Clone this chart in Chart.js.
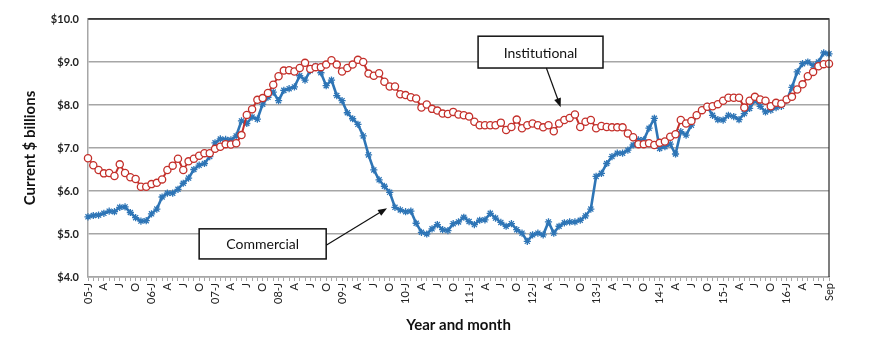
<!DOCTYPE html>
<html>
<head>
<meta charset="utf-8">
<script src="https://cdn.jsdelivr.net/npm/chart.js@4"></script>
<style>
  html, body { margin: 0; padding: 0; background: #fff; }
</style>
</head>
<body>
<canvas id="chart" width="870" height="349"></canvas>
<script>
// monthly values, Jan 2005 .. Sep 2016 ($ billions)
const commercial = [
  5.40, 5.43, 5.44, 5.48, 5.53, 5.52, 5.62, 5.63, 5.50, 5.38, 5.30, 5.31,
  5.47, 5.58, 5.86, 5.95, 5.95, 6.04, 6.18, 6.30, 6.50, 6.60, 6.64, 6.80,
  7.12, 7.21, 7.20, 7.19, 7.28, 7.63, 7.57, 7.72, 7.67, 8.02, 8.18, 8.30,
  8.10, 8.34, 8.38, 8.42, 8.68, 8.58, 8.80, 8.90, 8.75, 8.45, 8.58, 8.22,
  8.10, 7.82, 7.68, 7.55, 7.28, 6.84, 6.49, 6.26, 6.11, 5.97, 5.62, 5.56,
  5.52, 5.53, 5.25, 5.04, 5.00, 5.12, 5.22, 5.10, 5.08, 5.24, 5.28, 5.39,
  5.29, 5.22, 5.32, 5.33, 5.48, 5.37, 5.27, 5.18, 5.24, 5.10, 5.02, 4.83,
  4.98, 5.02, 4.98, 5.28, 5.02, 5.18, 5.26, 5.28, 5.28, 5.32, 5.42, 5.58,
  6.34, 6.41, 6.64, 6.80, 6.88, 6.88, 6.95, 7.07, 7.19, 7.19, 7.46, 7.69,
  6.99, 7.03, 7.09, 6.86, 7.38, 7.30, 7.53, 7.76, 7.88, 7.97, 7.76, 7.66,
  7.65, 7.76, 7.73, 7.66, 7.80, 7.92, 8.11, 7.97, 7.84, 7.88, 7.94, 7.97,
  8.11, 8.41, 8.77, 8.96, 9.00, 8.92, 9.00, 9.21, 9.19
];
const institutional = [
  6.76, 6.60, 6.49, 6.41, 6.42, 6.35, 6.62, 6.42, 6.32, 6.28, 6.10, 6.10,
  6.16, 6.19, 6.27, 6.49, 6.59, 6.75, 6.49, 6.69, 6.75, 6.82, 6.88, 6.88,
  6.98, 7.03, 7.09, 7.08, 7.11, 7.30, 7.77, 7.90, 8.12, 8.16, 8.28, 8.47,
  8.67, 8.80, 8.81, 8.78, 8.86, 8.98, 8.84, 8.88, 8.88, 8.94, 9.04, 8.94,
  8.78, 8.86, 8.94, 9.05, 9.00, 8.73, 8.68, 8.74, 8.54, 8.43, 8.43, 8.25,
  8.23, 8.18, 8.15, 7.94, 8.01, 7.91, 7.87, 7.80, 7.79, 7.84, 7.78, 7.76,
  7.73, 7.61, 7.53, 7.53, 7.53, 7.53, 7.59, 7.42, 7.49, 7.66, 7.46, 7.53,
  7.57, 7.53, 7.48, 7.53, 7.39, 7.57, 7.65, 7.70, 7.78, 7.49, 7.61, 7.65,
  7.46, 7.51, 7.49, 7.48, 7.48, 7.48, 7.34, 7.25, 7.09, 7.09, 7.11, 7.07,
  7.12, 7.15, 7.26, 7.32, 7.65, 7.57, 7.63, 7.76, 7.88, 7.96, 7.97, 8.02,
  8.10, 8.17, 8.17, 8.17, 7.94, 8.10, 8.19, 8.13, 8.10, 7.97, 8.05, 8.03,
  8.13, 8.19, 8.36, 8.48, 8.67, 8.77, 8.90, 8.95, 8.96
];

// quarter letters shown on the axis, last month gets its own label
const quarterLetters = ['J', 'A', 'J', 'O'];
const lastLabel = 'Sep';
const yTicks = [4, 5, 6, 7, 8, 9, 10];

const months = commercial.map((v, i) => {
  const yy = String(5 + Math.floor(i / 12)).padStart(2, '0');
  const m = i % 12;
  if (i === commercial.length - 1) return lastLabel;
  if (m === 0) return yy + '-J';
  if (m % 3 === 0) return quarterLetters[m / 3];
  return '';
});

// callout boxes, in data units (month index, $ value)
const notes = [
  { text: 'Institutional', box: [73.7, 9.6, 97.3, 8.86], from: [86.6, 8.86], to: [89.3, 7.95] },
  { text: 'Commercial', box: [21.0, 5.12, 45.0, 4.42], from: [45.0, 4.74], to: [56.5, 5.60] }
];

const FONT = 'Lato, "Open Sans", sans-serif';

function arrow(ctx, x1, y1, x2, y2) {
  const a = Math.atan2(y2 - y1, x2 - x1);
  ctx.beginPath();
  ctx.moveTo(x1, y1);
  ctx.lineTo(x2 - 6 * Math.cos(a), y2 - 6 * Math.sin(a));
  ctx.stroke();
  ctx.beginPath();
  ctx.moveTo(x2, y2);
  ctx.lineTo(x2 - 9 * Math.cos(a) + 3.5 * Math.sin(a), y2 - 9 * Math.sin(a) - 3.5 * Math.cos(a));
  ctx.lineTo(x2 - 9 * Math.cos(a) - 3.5 * Math.sin(a), y2 - 9 * Math.sin(a) + 3.5 * Math.cos(a));
  ctx.closePath();
  ctx.fill();
}

const calloutPlugin = {
  id: 'callouts',
  afterDraw(chart) {
    const ctx = chart.ctx;
    const xs = chart.scales.x, ys = chart.scales.y;
    const area = chart.chartArea;
    ctx.save();
    // dark frame on top and right
    ctx.strokeStyle = '#3a3a3a';
    ctx.lineWidth = 1.3;
    ctx.beginPath();
    ctx.moveTo(area.left, area.top);
    ctx.lineTo(area.right, area.top);
    ctx.lineTo(area.right, area.bottom);
    ctx.stroke();

    notes.forEach(n => {
      const x1 = xs.getPixelForValue(n.box[0]), y1 = ys.getPixelForValue(n.box[1]);
      const x2 = xs.getPixelForValue(n.box[2]), y2 = ys.getPixelForValue(n.box[3]);
      ctx.fillStyle = '#fff';
      ctx.fillRect(x1, y1, x2 - x1, y2 - y1);
      ctx.strokeStyle = '#111';
      ctx.lineWidth = 1.5;
      ctx.strokeRect(x1, y1, x2 - x1, y2 - y1);
      ctx.fillStyle = '#111';
      ctx.font = '14px ' + FONT;
      ctx.textAlign = 'center';
      ctx.textBaseline = 'middle';
      ctx.fillText(n.text, (x1 + x2) / 2, (y1 + y2) / 2 + 1);
      ctx.lineWidth = 1.2;
      arrow(ctx,
        xs.getPixelForValue(n.from[0]), ys.getPixelForValue(n.from[1]),
        xs.getPixelForValue(n.to[0]), ys.getPixelForValue(n.to[1]));
    });
    ctx.restore();
  }
};

const chart = new Chart(document.getElementById('chart').getContext('2d'), {
  type: 'line',
  data: {
    labels: months,
    datasets: [
      {
        label: 'Institutional',
        data: institutional,
        borderColor: '#c4302b',
        borderWidth: 2,
        pointStyle: 'circle',
        pointRadius: 3.6,
        pointBorderWidth: 1.3,
        pointBackgroundColor: '#fff',
        pointBorderColor: '#c4302b',
        tension: 0,
        order: 0
      },
      {
        label: 'Commercial',
        data: commercial,
        borderColor: '#2e75b6',
        borderWidth: 2.6,
        pointStyle: 'star',
        pointRadius: 3.6,
        pointBorderWidth: 1.3,
        pointBackgroundColor: '#2e75b6',
        pointBorderColor: '#2e75b6',
        tension: 0,
        order: 1
      }
    ]
  },
  options: {
    responsive: false,
    animation: false,
    layout: { padding: { top: 19, right: 41, left: 0, bottom: 0 } },
    plugins: {
      legend: { display: false },
      tooltip: { enabled: false }
    },
    scales: {
      x: {
        offset: false,
        grid: {
          drawOnChartArea: false,
          drawTicks: true,
          tickLength: 4,
          color: '#a6a6a6',
          lineWidth: 1
        },
        border: { color: '#a6a6a6', width: 1.5 },
        ticks: {
          autoSkip: false,
          maxRotation: 90,
          minRotation: 90,
          padding: 2,
          color: '#222',
          font: { family: FONT, size: 11 },
          callback: (v, i) => months[i]
        },
        title: {
          display: true,
          text: 'Year and month',
          color: '#111',
          font: { family: FONT, size: 15, weight: 'bold' },
          padding: { top: 4, bottom: 15 }
        },
        afterFit: s => { s.height = 72; }
      },
      y: {
        min: 4,
        max: 10,
        afterBuildTicks: s => { s.ticks = yTicks.map(v => ({ value: v })); },
        grid: {
          drawTicks: false,
          color: c => (c.tick && c.tick.value === 10 ? '#3a3a3a' : '#a6a6a6'),
          lineWidth: 1.5
        },
        border: { color: '#a6a6a6', width: 1.5 },
        ticks: {
          padding: 9,
          color: '#222',
          font: { family: FONT, size: 11, weight: 'bold' },
          callback: v => '$' + Number(v).toFixed(1)
        },
        title: {
          display: true,
          text: 'Current $ billions',
          color: '#111',
          font: { family: FONT, size: 15, weight: 'bold' },
          padding: { top: 21, bottom: 0 }
        },
        afterFit: s => { s.width = 88; }
      }
    }
  },
  plugins: [calloutPlugin]
});
</script>
</body>
</html>
